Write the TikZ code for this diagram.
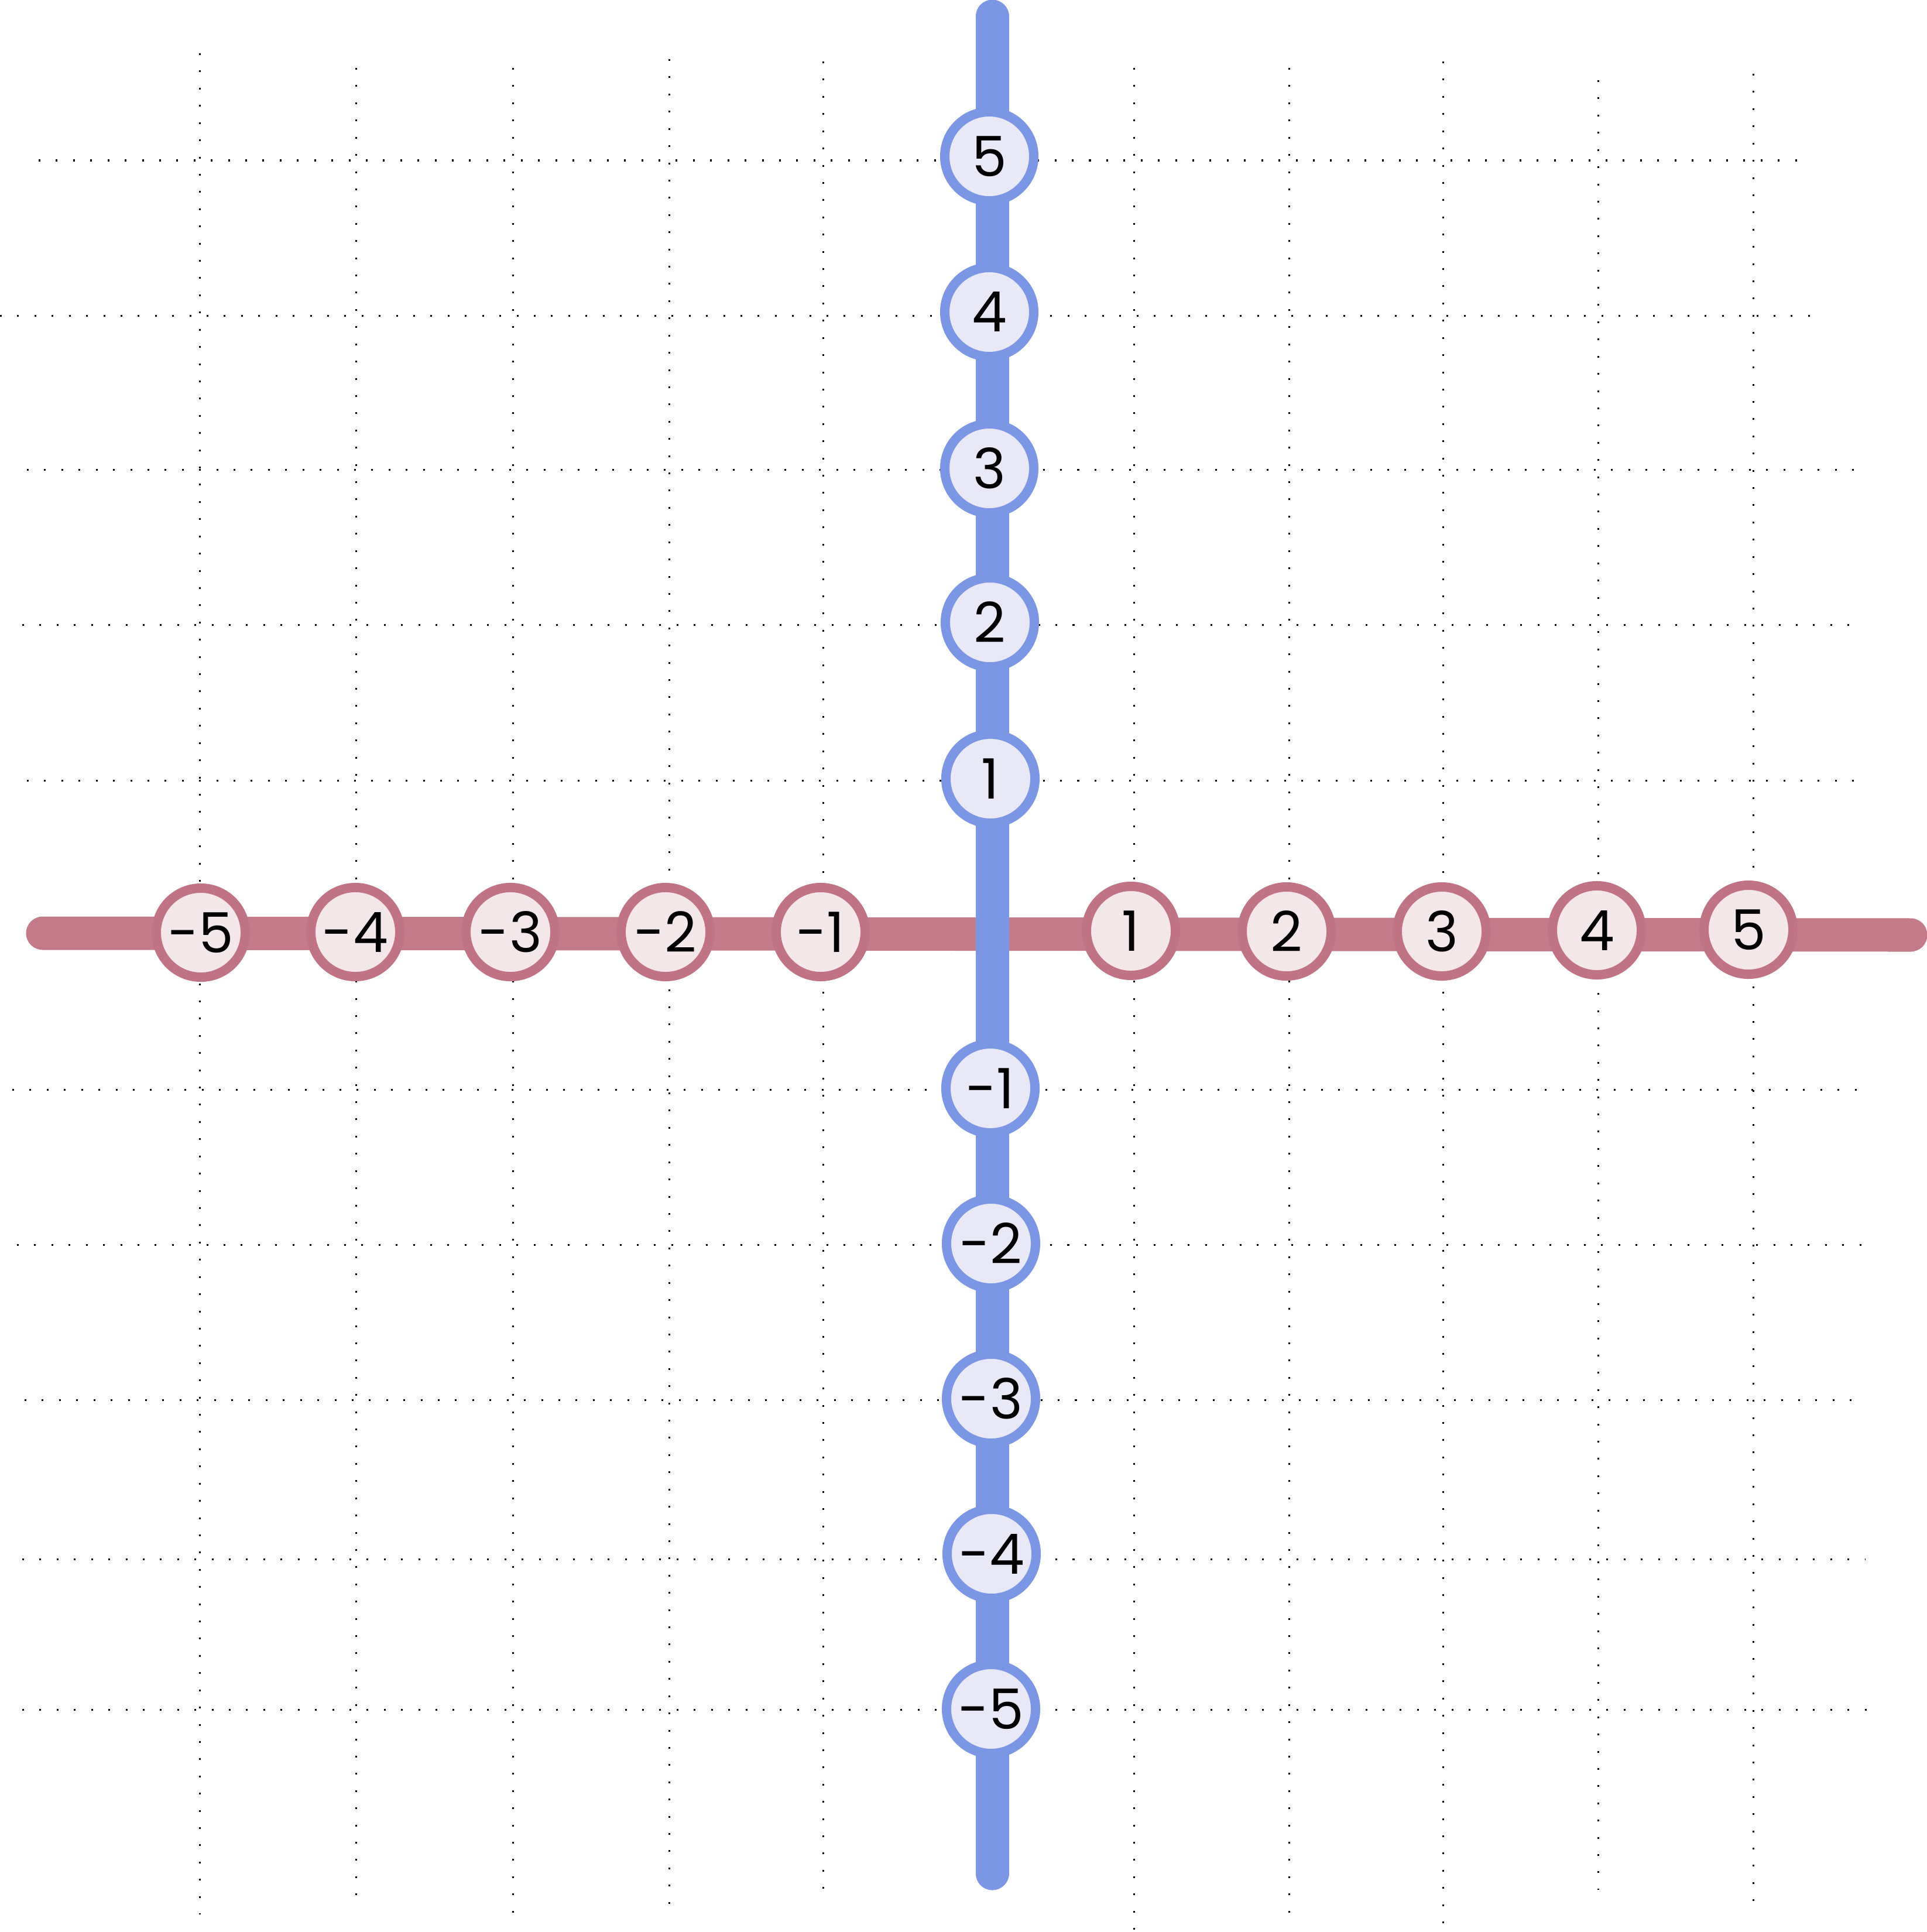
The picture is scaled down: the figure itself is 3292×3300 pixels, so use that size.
\documentclass[tikz,border=0pt]{standalone}
\usepackage{fontspec}
\setmainfont{Poppins}
\definecolor{bluel}{HTML}{7B96E4}
\definecolor{bluefill}{HTML}{E8E8F6}
\definecolor{redl}{HTML}{C37B8A}
\definecolor{redstroke}{HTML}{BF7384}
\definecolor{redfill}{HTML}{F4E7EA}
\tikzset{
  griddots/.style={line width=0.03cm, dash pattern=on 0.03cm off 0.264cm, black},
  axisline/.style={line width=0.57cm, line cap=round},
  numnode/.style={circle, minimum size=1.52cm, inner sep=0pt, outer sep=0pt,
    line width=0.16cm, font=\fontsize{27pt}{30pt}\selectfont},
  bnode/.style={numnode, draw=bluel, fill=bluefill},
  rnode/.style={numnode, draw=redstroke, fill=redfill}
}
\begin{document}
\begin{tikzpicture}[x=0.01cm,y=-0.01cm]
\useasboundingbox[fill=white] (0,0) rectangle (3292,3300);
% horizontal dotted grid lines
\foreach \yy/\xa/\xb in {274/66/3070, 539/0/3092, 802/46/3174, 1067/38/3168, 1333/46/3174,
  1861/21/3178, 2126/29/3183, 2391/42/3168, 2663/38/3187, 2920/38/3192}
  \draw[griddots] (\xa,\yy) -- (\xb,\yy);
% vertical dotted grid lines
\foreach \xx/\ya/\yb in {341/91/3270, 608/116/3241, 876/116/3268, 1143/101/3258, 1406/105/3231,
  1937/116/3298, 2202/116/3271, 2465/105/3292, 2730/137/3228, 2995/126/3252}
  \draw[griddots] (\xx,\ya) -- (\xx,\yb);
% axes
\coordinate (xl) at (73,1594);
\coordinate (xr) at (3264,1597);
\coordinate (yt) at (1695,28);
\coordinate (yb) at (1695,3200);
\draw[axisline, redl] (xl) -- (xr);
\draw[axisline, bluel] (yt) -- (yb);
% x-axis nodes
\node[rnode] (xm5) at (343,1593) {-5};
\node[rnode] (xm4) at (607,1592) {-4};
\node[rnode] (xm3) at (872,1592) {-3};
\node[rnode] (xm2) at (1137,1592) {-2};
\node[rnode] (xm1) at (1402,1592) {-1};
\node[rnode] (xp1) at (1932,1590) {1};
\node[rnode] (xp2) at (2198,1591) {2};
\node[rnode] (xp3) at (2463,1591) {3};
\node[rnode] (xp4) at (2728,1589) {4};
\node[rnode] (xp5) at (2987,1588) {5};
% y-axis nodes
\node[bnode] (yp5) at (1690,267) {5};
\node[bnode] (yp4) at (1690,533) {4};
\node[bnode] (yp3) at (1690,800) {3};
\node[bnode] (yp2) at (1691,1063) {2};
\node[bnode] (yp1) at (1692,1330) {1};
\node[bnode] (ym1) at (1692,1859) {-1};
\node[bnode] (ym2) at (1693,2124) {-2};
\node[bnode] (ym3) at (1693,2389) {-3};
\node[bnode] (ym4) at (1694,2654) {-4};
\node[bnode] (ym5) at (1693,2919) {-5};
\end{tikzpicture}
\end{document}
